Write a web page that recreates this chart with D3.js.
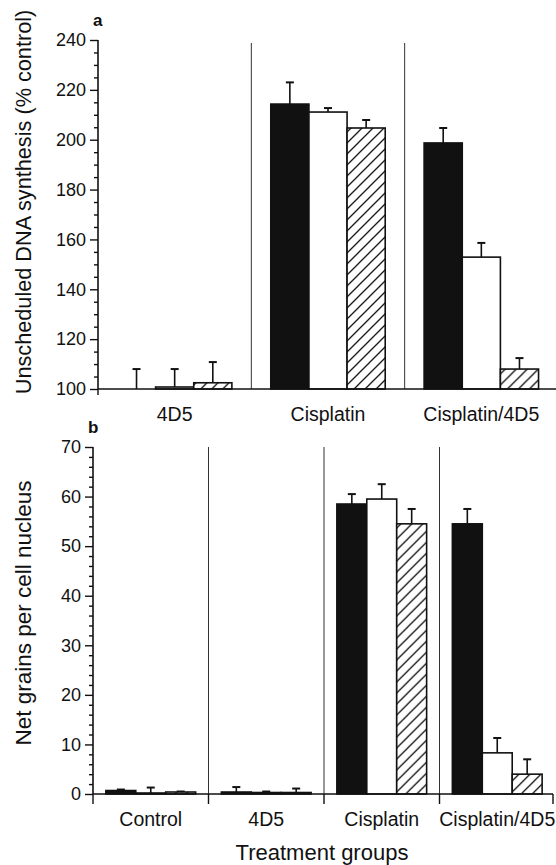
<!DOCTYPE html>
<html>
<head>
<meta charset="utf-8">
<script src="https://cdn.jsdelivr.net/npm/d3@7"></script>
<style>
  html, body { margin: 0; padding: 0; background: #fff; }
  svg { display: block; }
  text { font-family: "Liberation Sans", Arial, Helvetica, sans-serif; fill: #111; }
</style>
</head>
<body>
<script>
// ---- Panel a: unscheduled DNA synthesis (% control) ----
const groupsA = ["4D5", "Cisplatin", "Cisplatin/4D5"];
const solidA = [100, 214.3, 198.7];
const solidA_se = [8, 8.7, 6];
const openA = [100.8, 211.1, 152.9];
const openA_se = [7.2, 1.6, 5.7];
const hatchA = [102.5, 204.7, 108];
const hatchA_se = [8.3, 3.2, 4.4];
const ticksA = [100, 120, 140, 160, 180, 200, 220, 240];

// ---- Panel b: net grains per cell nucleus ----
const groupsB = ["Control", "4D5", "Cisplatin", "Cisplatin/4D5"];
const solidB = [0.7, 0.4, 58.5, 54.5];
const solidB_se = [0.2, 1.0, 2.0, 3.0];
const openB = [0.2, 0.3, 59.5, 8.3];
const openB_se = [1.1, 0.2, 3.0, 3.0];
const hatchB = [0.4, 0.3, 54.5, 4.0];
const hatchB_se = [0.1, 0.8, 3.0, 3.0];
const ticksB = [0, 10, 20, 30, 40, 50, 60, 70];

const seriesKeys = ["solid", "open", "hatched"];

const W = 556, H = 865;
const svg = d3.select("body").append("svg").attr("width", W).attr("height", H);

// diagonal hatch fill
const defs = svg.append("defs");
const pat = defs.append("pattern")
  .attr("id", "hatch").attr("patternUnits", "userSpaceOnUse")
  .attr("width", 11).attr("height", 11);
pat.append("rect").attr("width", 11).attr("height", 11).attr("fill", "#fff");
pat.append("path")
  .attr("d", "M-2,2 L2,-2 M0,11 L11,0 M9,13 L13,9")
  .attr("stroke", "#111").attr("stroke-width", 1.3);

const fills = { solid: "#111", open: "#fff", hatched: "url(#hatch)" };

function panel(cfg) {
  const g = svg.append("g");
  const x = d3.scaleBand().domain(cfg.groups).range(cfg.xRange);
  const xs = d3.scaleBand().domain(seriesKeys).range([0, x.bandwidth()]).paddingOuter(cfg.pad);
  const y = d3.scaleLinear().domain(cfg.domain).range(cfg.yRange);
  const y0 = y(cfg.domain[0]);

  // dividers between treatment groups
  cfg.groups.slice(1).forEach(gr => {
    g.append("line")
      .attr("x1", x(gr)).attr("x2", x(gr))
      .attr("y1", y(cfg.domain[1]) + cfg.divTop).attr("y2", y0)
      .attr("stroke", "#333").attr("stroke-width", 1);
  });

  // rows of bars, one per group
  const rows = cfg.groups.map((gr, i) => seriesKeys.map(k => ({
    group: gr, key: k, value: cfg.values[k][i], se: cfg.se[k][i]
  }))).flat();

  const bars = g.selectAll("g.bar").data(rows).join("g").attr("class", "bar")
    .attr("transform", d => `translate(${x(d.group) + xs(d.key)},0)`);

  // error bars (upper half only)
  bars.append("line")
    .attr("x1", xs.bandwidth() / 2).attr("x2", xs.bandwidth() / 2)
    .attr("y1", d => y(d.value)).attr("y2", d => y(d.value + d.se))
    .attr("stroke", "#111").attr("stroke-width", 1.6);
  bars.append("line")
    .attr("x1", xs.bandwidth() / 2 - 4).attr("x2", xs.bandwidth() / 2 + 4)
    .attr("y1", d => y(d.value + d.se)).attr("y2", d => y(d.value + d.se))
    .attr("stroke", "#111").attr("stroke-width", 2);

  bars.append("rect")
    .attr("x", 0).attr("width", xs.bandwidth())
    .attr("y", d => y(d.value))
    .attr("height", d => Math.max(0, y0 - y(d.value)))
    .attr("fill", d => fills[d.key])
    .attr("stroke", "#111").attr("stroke-width", 1.6);

  // baseline
  g.append("line")
    .attr("x1", cfg.xRange[0]).attr("x2", cfg.xEnd)
    .attr("y1", y0).attr("y2", y0)
    .attr("stroke", "#111").attr("stroke-width", 1.6);
  // small downward ticks on the baseline
  cfg.downTicks.forEach(v => {
    g.append("line").attr("x1", v).attr("x2", v)
      .attr("y1", y0).attr("y2", y0 + cfg.downLen)
      .attr("stroke", "#111").attr("stroke-width", 1.4);
  });

  // y axis: major + minor ticks
  const ax = g.append("g").attr("transform", `translate(${cfg.xRange[0]},0)`);
  ax.call(d3.axisLeft(y).tickValues(cfg.ticks).tickSize(8).tickPadding(4).tickFormat(d3.format("d")));
  const minors = d3.range(cfg.domain[0], cfg.domain[1] + 0.001, cfg.minor)
    .filter(v => !cfg.ticks.includes(v));
  ax.append("g").call(d3.axisLeft(y).tickValues(minors).tickSize(4).tickFormat(""))
    .select(".domain").remove();
  ax.selectAll(".domain").attr("d", `M0,${y(cfg.domain[1])}V${y0}`).attr("stroke", "#111").attr("stroke-width", 1.6);
  ax.selectAll(".tick line").attr("stroke", "#111").attr("stroke-width", 1.4);
  ax.selectAll(".tick text").style("font-size", "18px").style("font-family", "'Liberation Sans', Arial, sans-serif").attr("fill", "#111");

  // group labels
  g.selectAll("text.grp").data(cfg.groups).join("text").attr("class", "grp")
    .attr("x", d => x(d) + x.bandwidth() / 2).attr("y", y0 + cfg.labelDy)
    .attr("text-anchor", "middle").style("font-size", "19.5px").text(d => d);

  // y title
  g.append("text")
    .attr("transform", `translate(${cfg.titleX},${cfg.titleY}) rotate(-90)`)
    .attr("text-anchor", "middle").style("font-size", cfg.titleSize).text(cfg.title);

  // panel letter
  g.append("text").attr("x", cfg.xRange[0] - 5).attr("y", cfg.letterY)
    .style("font-size", "17px").style("font-weight", "bold").text(cfg.letter);
}

panel({
  groups: groupsA,
  values: { solid: solidA, open: openA, hatched: hatchA },
  se: { solid: solidA_se, open: openA_se, hatched: hatchA_se },
  xRange: [98, 558], xEnd: 556, pad: 0.51,
  domain: [100, 240], yRange: [389, 40], ticks: ticksA, minor: 5,
  divTop: 3, downTicks: [98], downLen: 6, labelDy: 32,
  title: "Unscheduled DNA synthesis (% control)", titleX: 31, titleY: 202, titleSize: "21.7px",
  letter: "a", letterY: 26
});

panel({
  groups: groupsB,
  values: { solid: solidB, open: openB, hatched: hatchB },
  se: { solid: solidB_se, open: openB_se, hatched: hatchB_se },
  xRange: [93, 555], xEnd: 553, pad: 0.43,
  domain: [0, 70], yRange: [794, 447], ticks: ticksB, minor: 2,
  divTop: 0, downTicks: [93, 208.5, 324, 439.5, 553], downLen: 10, labelDy: 32,
  title: "Net grains per cell nucleus", titleX: 31, titleY: 613, titleSize: "22.5px",
  letter: "b", letterY: 433
});

// shared x title
svg.append("text").attr("x", 322).attr("y", 860)
  .attr("text-anchor", "middle").style("font-size", "22px").text("Treatment groups");
</script>
</body>
</html>
